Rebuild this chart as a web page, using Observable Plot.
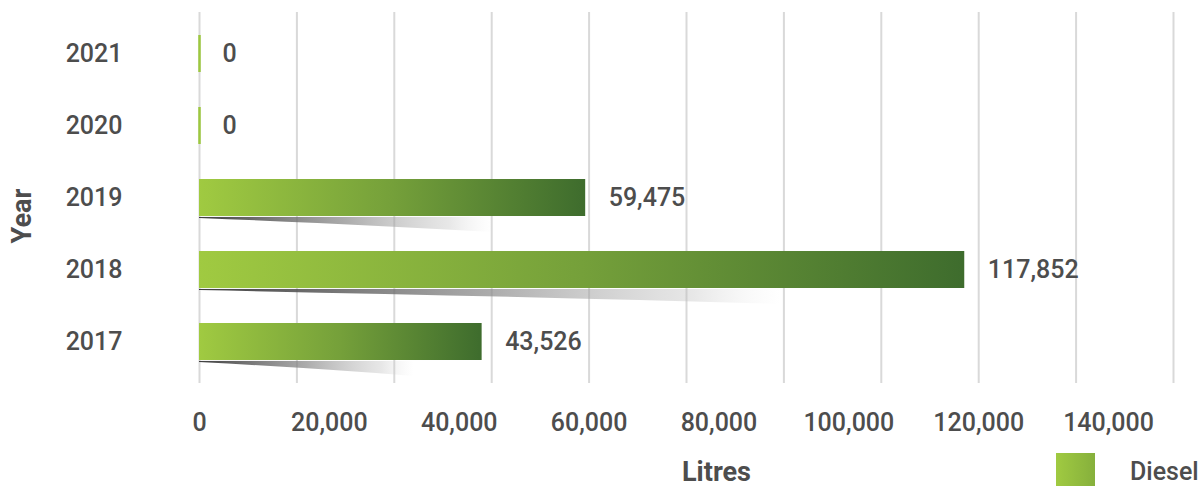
<!DOCTYPE html>
<html>
<head>
<meta charset="utf-8">
<script src="https://cdn.jsdelivr.net/npm/d3@7"></script>
<script src="https://cdn.jsdelivr.net/npm/@observablehq/plot@0.6"></script>
<style>
  html, body { margin: 0; padding: 0; background: #ffffff; }
  #wrap { position: relative; width: 1203px; height: 486px; overflow: hidden; font-family: Roboto, sans-serif; }
  #legend { position: absolute; left: 1056px; top: 453px; display: flex; align-items: flex-start; }
  #legend .sw { width: 39px; height: 39px; background: linear-gradient(to right, #a0ca41, #86b03c); }
  #legend .lb { margin-left: 35px; margin-top: 4px; font-size: 25px; font-weight: 500; color: #4d4d4d; line-height: 30px; }
  #ylab { position: absolute; left: 22px; top: 216px; transform: translate(-50%, -50%) rotate(-90deg); font-size: 27px; font-weight: 700; color: #4d4d4d; white-space: nowrap; }
</style>
</head>
<body>
<div id="wrap">
  <div id="chart"></div>
  <div id="ylab"></div>
  <div id="legend"><div class="sw"></div><div class="lb" id="series"></div></div>
</div>
<script>
// Data
const years = ["2021", "2020", "2019", "2018", "2017"];
const diesel = [0, 0, 59475, 117852, 43526];
const xTicks = [0, 20000, 40000, 60000, 80000, 100000, 120000, 140000];
const gridTicks = [0, 15000, 30000, 45000, 60000, 75000, 90000, 105000, 120000, 135000, 150000];
const xLabel = "Litres";
const yLabel = "Year";
const seriesName = "Diesel";

const data = years.map((y, i) => ({year: y, value: diesel[i]}));
const fmt = d3.format(",");

function defsMark() {
  const defs = d3.create("svg:defs");
  const bg = defs.append("linearGradient").attr("id", "barGrad").attr("x1", 0).attr("x2", 1).attr("y1", 0).attr("y2", 0);
  bg.append("stop").attr("offset", "0%").attr("stop-color", "#a0ca41");
  bg.append("stop").attr("offset", "50%").attr("stop-color", "#75a03a");
  bg.append("stop").attr("offset", "100%").attr("stop-color", "#3e6c2d");
  const sg = defs.append("linearGradient").attr("id", "shadowGrad").attr("x1", 0).attr("x2", 1).attr("y1", 0).attr("y2", 0);
  sg.append("stop").attr("offset", "0%").attr("stop-color", "#333").attr("stop-opacity", 0.95);
  sg.append("stop").attr("offset", "50%").attr("stop-color", "#888").attr("stop-opacity", 0.7);
  sg.append("stop").attr("offset", "85%").attr("stop-color", "#bbb").attr("stop-opacity", 0.35);
  sg.append("stop").attr("offset", "100%").attr("stop-color", "#ddd").attr("stop-opacity", 0);
  const cp = defs.append("clipPath").attr("id", "wedge").attr("clipPathUnits", "objectBoundingBox");
  cp.append("path").attr("d", "M0,0 L1,0 L1,1 Q0.55,0.5 0,0.08 Z");
  return defs.node();
}

const chart = Plot.plot({
  width: 1203,
  height: 486,
  marginLeft: 199,
  marginRight: 30,
  marginTop: 12,
  marginBottom: 103,
  style: {fontFamily: "Roboto, sans-serif", fontSize: "25px", fontWeight: 500, color: "#4d4d4d", background: "transparent", overflow: "visible"},
  x: {domain: [0, 150000], ticks: xTicks, tickFormat: fmt, tickSize: 0, tickPadding: 30, label: null},
  y: {domain: years, paddingInner: 0.48, paddingOuter: 0.29, tickSize: 0, tickPadding: 77, label: null},
  marks: [
    defsMark,
    Plot.ruleX(gridTicks, {stroke: "#d9d9d9", strokeWidth: 2}),
    Plot.barX(data, {x1: 0, x2: d => d.value * 0.76, y: "year", fill: "url(#shadowGrad)", insetTop: 37.8, insetBottom: -16, filter: d => d.value > 0}),
    Plot.barX(data, {x1: 0, x2: "value", y: "year", fill: "url(#barGrad)", filter: d => d.value > 0}),
    Plot.tickX(data, {x: "value", y: "year", stroke: "#9dc83f", strokeWidth: 2.5, filter: d => d.value === 0}),
    Plot.text(data, {x: "value", y: "year", text: d => fmt(d.value), textAnchor: "start", dx: 23, fill: "#4d4d4d", fontSize: 25, fontWeight: 500}),
    Plot.text([xLabel], {frameAnchor: "bottom", dx: 30, dy: 97, fontWeight: 700, fontSize: 27, fill: "#4d4d4d"})
  ]
});

d3.select(chart).selectAll('g[fill="url(#shadowGrad)"] rect').attr("clip-path", "url(#wedge)");
document.getElementById("chart").appendChild(chart);
document.getElementById("ylab").textContent = yLabel;
document.getElementById("series").textContent = seriesName;
</script>
</body>
</html>
